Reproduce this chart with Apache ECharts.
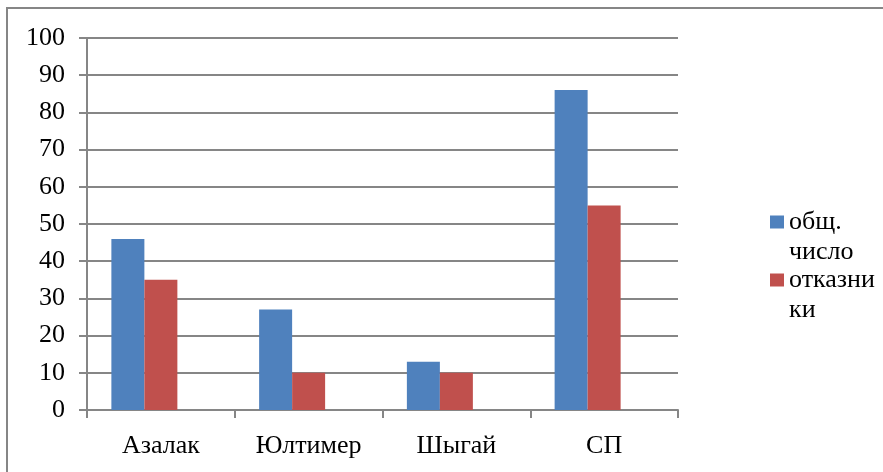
<!DOCTYPE html>
<html>
<head>
<meta charset="utf-8">
<script src="https://cdn.jsdelivr.net/npm/echarts@6/dist/echarts.min.js"></script>
<style>
html,body{margin:0;padding:0;background:#fff;}
#c{width:883px;height:472px;}
</style>
</head>
<body>
<div id="c"></div>
<script>
const categories = ['Азалак', 'Юлтимер', 'Шыгай', 'СП'];
const seriesNames = ['общ. число', 'отказники'];
const legendLabels = {'общ. число': '\u00a0\nобщ.\nчисло', 'отказники': '\u00a0\nотказни\nки'};
const totalValues = [46, 27, 13, 86];
const refuserValues = [35, 10, 10, 55];
const emptyValues = [null, null, null, null];
const yTicks = {min: 0, max: 100, interval: 10};

const FONT = 'Liberation Serif';
const FS = 26;
const chart = echarts.init(document.getElementById('c'), null, {renderer: 'canvas'});
const LH = 30;
chart.setOption({
  animation: false,
  backgroundColor: '#fff',
  graphic: [{
    type: 'rect', shape: {x: 7, y: 8, width: 900, height: 500},
    style: {fill: 'none', stroke: '#868686', lineWidth: 2}, silent: true
  }],
  grid: {left: 87, right: 883 - 678, top: 38, bottom: 472 - 410, containLabel: false},
  legend: {
    orient: 'vertical', left: 770, top: 222 - 1.5 * LH, padding: 0,
    itemWidth: 14, itemHeight: 13, itemGap: -32,
    icon: 'rect',
    formatter: n => legendLabels[n] || n,
    textStyle: {fontFamily: FONT, fontSize: FS, color: '#000', lineHeight: LH},
    data: seriesNames
  },
  xAxis: {
    type: 'category', data: categories,
    axisLine: {lineStyle: {color: '#868686', width: 2}},
    axisTick: {show: true, length: 8, alignWithLabel: false, lineStyle: {color: '#868686', width: 2}},
    axisLabel: {fontFamily: FONT, fontSize: FS, color: '#000', margin: 23}
  },
  yAxis: {
    type: 'value', min: yTicks.min, max: yTicks.max, interval: yTicks.interval,
    axisLine: {show: true, lineStyle: {color: '#868686', width: 2}},
    axisTick: {show: true, length: 8, lineStyle: {color: '#868686', width: 2}},
    splitLine: {lineStyle: {color: '#868686', width: 2}},
    axisLabel: {fontFamily: FONT, fontSize: FS, color: '#000', margin: 22}
  },
  series: [
    {name: seriesNames[0], type: 'bar', data: totalValues, barGap: '0%', barCategoryGap: '33%',
     itemStyle: {color: '#4F81BD'}},
    {name: seriesNames[1], type: 'bar', data: refuserValues, barGap: '0%', barCategoryGap: '33%',
     itemStyle: {color: '#C0504D'}},
    {name: 'пусто', type: 'bar', data: emptyValues, barGap: '0%', barCategoryGap: '33%',
     itemStyle: {color: '#9BBB59'}}
  ]
});
</script>
</body>
</html>
